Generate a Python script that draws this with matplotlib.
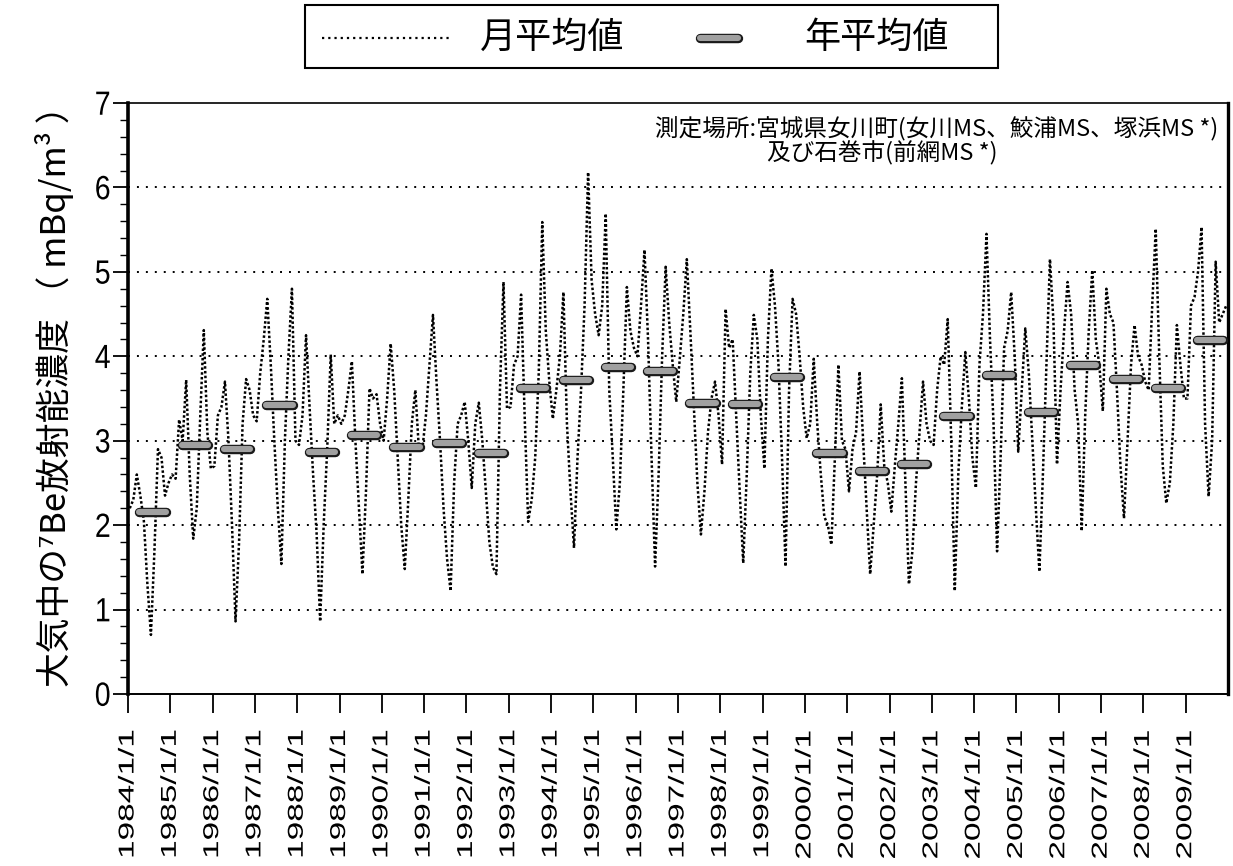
import numpy as np
import matplotlib
matplotlib.use("Agg")
import matplotlib.pyplot as plt
from matplotlib.patheffects import AbstractPathEffect, Stroke, Normal
from matplotlib.transforms import Affine2D
from matplotlib.lines import Line2D
from matplotlib.patches import Rectangle
from matplotlib.ticker import MultipleLocator

# ---------------- data ----------------
years = list(range(1984, 2010))

monthly_by_year = [
    [2.20, 2.30, 2.60, 2.35, 2.05, 1.30, 0.70, 1.70, 2.90, 2.80, 2.35, 2.50],  # 1984
    [2.60, 2.55, 3.25, 3.00, 3.72, 2.60, 1.84, 2.20, 3.30, 4.31, 3.10, 2.67],  # 1985
    [2.70, 3.30, 3.40, 3.70, 3.00, 2.00, 0.86, 1.80, 3.20, 3.73, 3.60, 3.30],  # 1986
    [3.23, 3.80, 4.20, 4.68, 3.90, 3.00, 2.20, 1.54, 3.00, 4.00, 4.80, 3.00],  # 1987
    [2.95, 3.30, 4.25, 3.40, 2.60, 1.90, 0.86, 2.00, 2.90, 4.02, 3.20, 3.30],  # 1988
    [3.20, 3.30, 3.60, 3.94, 3.00, 2.20, 1.42, 2.40, 3.62, 3.50, 3.55, 3.20],  # 1989
    [3.00, 3.50, 4.15, 3.60, 2.80, 2.00, 1.48, 2.30, 3.20, 3.60, 2.90, 2.90],  # 1990
    [3.30, 3.90, 4.49, 3.70, 3.00, 2.20, 1.60, 1.22, 2.50, 3.20, 3.30, 3.46],  # 1991
    [3.00, 2.44, 3.20, 3.45, 3.00, 2.40, 1.80, 1.50, 1.42, 3.60, 4.88, 3.38],  # 1992
    [3.40, 3.90, 4.00, 4.73, 3.30, 2.04, 2.30, 2.80, 3.80, 5.59, 4.30, 3.70],  # 1993
    [3.26, 3.60, 4.00, 4.76, 3.20, 2.40, 1.73, 2.80, 3.60, 4.60, 6.18, 4.90],  # 1994
    [4.50, 4.25, 4.60, 5.69, 3.60, 2.80, 1.95, 2.50, 3.60, 4.82, 4.30, 4.10],  # 1995
    [4.00, 4.60, 5.26, 4.20, 2.80, 1.51, 2.60, 4.00, 5.06, 4.40, 3.90, 3.46],  # 1996
    [3.97, 4.50, 5.15, 4.30, 3.40, 2.50, 1.89, 2.40, 3.10, 3.50, 3.70, 3.30],  # 1997
    [2.72, 4.56, 4.10, 4.20, 3.30, 2.40, 1.55, 2.60, 3.80, 4.49, 4.20, 3.30],  # 1998
    [2.67, 4.20, 5.04, 4.60, 3.90, 2.80, 1.51, 3.60, 4.68, 4.50, 4.00, 3.40],  # 1999
    [3.03, 3.20, 3.97, 3.20, 2.60, 2.10, 2.00, 1.77, 2.80, 3.90, 3.00, 2.90],  # 2000
    [2.40, 2.90, 3.10, 3.82, 3.00, 2.20, 1.42, 2.00, 2.60, 3.43, 2.70, 2.50],  # 2001
    [2.16, 2.70, 3.20, 3.74, 2.50, 1.30, 1.70, 2.50, 3.10, 3.70, 3.20, 3.00],  # 2002
    [2.95, 3.60, 4.00, 3.90, 4.44, 3.00, 1.22, 2.60, 3.40, 4.05, 3.50, 2.80],  # 2003
    [2.44, 3.90, 4.50, 5.45, 4.20, 3.20, 1.69, 2.80, 4.10, 4.30, 4.76, 4.00],  # 2004
    [2.87, 3.60, 4.33, 3.80, 3.00, 2.20, 1.45, 2.60, 3.90, 5.15, 4.40, 2.72],  # 2005
    [3.60, 4.30, 4.88, 4.50, 3.60, 3.20, 1.93, 3.30, 4.30, 5.02, 4.20, 3.90],  # 2006
    [3.35, 4.80, 4.50, 4.40, 3.60, 2.70, 2.08, 3.00, 3.90, 4.37, 4.00, 3.90],  # 2007
    [3.70, 3.60, 4.60, 5.51, 4.00, 2.70, 2.26, 2.50, 3.20, 4.37, 3.90, 3.50],  # 2008
    [3.50, 4.60, 4.70, 5.00, 5.53, 3.20, 2.34, 3.00, 5.12, 4.40, 4.50, 4.60],  # 2009
]

annual = [2.15, 2.95, 2.90, 3.42, 2.87, 3.07, 2.92, 2.97, 2.85, 3.63,
          3.72, 3.87, 3.82, 3.45, 3.44, 3.76, 2.86, 2.64, 2.72, 3.29,
          3.78, 3.34, 3.90, 3.73, 3.63, 4.19]

xtick_labels = [f"{y}/1/1" for y in years]
ytick_labels = ["0", "1", "2", "3", "4", "5", "6", "7"]

legend_labels = ["月平均値", "年平均値"]
ylabel_text = "大気中の⁷Be放射能濃度 （ mBq/m³ ）"
note_line1 = "測定場所:宮城県女川町(女川MS、鮫浦MS、塚浜MS *)"
note_line2 = "及び石巻市(前網MS *)"

CJK = ["Noto Sans CJK JP", "DejaVu Sans"]


# ---------------- helpers ----------------
class Stretch(AbstractPathEffect):
    """Draw text stretched along its own baseline (sx) / across it (sy)."""

    def __init__(self, sx=1.0, sy=1.0, xanchor="center", yanchor="center"):
        super().__init__()
        self.sx, self.sy = sx, sy
        self.xanchor, self.yanchor = xanchor, yanchor

    def draw_path(self, renderer, gc, tpath, affine, rgbFace=None):
        ext = tpath.get_extents()
        ax_ = {"left": ext.x0, "right": ext.x1,
               "center": 0.5 * (ext.x0 + ext.x1)}[self.xanchor]
        ay_ = {"bottom": ext.y0, "top": ext.y1,
               "center": 0.5 * (ext.y0 + ext.y1)}[self.yanchor]
        local = (Affine2D().translate(-ax_, -ay_)
                 .scale(self.sx, self.sy).translate(ax_, ay_))
        renderer.draw_path(gc, tpath, local + affine, rgbFace)


W, H = 1233, 866
fig = plt.figure(figsize=(W / 100, H / 100), dpi=100)
fig.patch.set_facecolor("white")

AX_L, AX_R, AX_T, AX_B = 128, 1228, 103, 694
ax = fig.add_axes([AX_L / W, 1 - AX_B / H, (AX_R - AX_L) / W, (AX_B - AX_T) / H])

# monthly series
monthly = np.array(monthly_by_year).ravel()
n_years = len(years)
month_pos = np.repeat(np.array(years, dtype=float), 12) + \
    (np.tile(np.arange(12), n_years) + 0.5) / 12.0

ax.plot(month_pos, monthly, color="black", lw=1.8,
        linestyle=(0, (1, 0.9)), zorder=3)

# annual bars
bar_x = []
bar_y = []
for y, v in zip(years, annual):
    bar_x += [y + 0.27, y + 0.89, np.nan]
    bar_y += [v, v, np.nan]
bar_pe = [Stroke(linewidth=6.8, foreground="#1a1a1a", capstyle="round"), Normal()]
ax.plot(bar_x, bar_y, color="#a0a0a0", lw=4.4, solid_capstyle="round",
        zorder=4, path_effects=bar_pe)

# axes formatting
ax.set_xlim(1984, 2010)
ax.set_ylim(0, 7)

for yv in range(1, 7):
    ax.axhline(yv, color="black", lw=1.4, linestyle=(0, (1, 3.6)), zorder=1)

ax.set_xticks(years)
ax.set_xticklabels(xtick_labels, rotation=90, ha="center", va="top",
                   fontsize=15.5, family="Liberation Sans")
ax.set_yticks(range(0, 8))
ax.set_yticklabels(ytick_labels, fontsize=20.5, family="Liberation Sans")
ax.yaxis.set_minor_locator(MultipleLocator(0.2))

ax.tick_params(axis="x", which="major", direction="out", length=14,
               width=1.3, pad=12, color="black")
ax.tick_params(axis="y", which="major", direction="out", length=11,
               width=1.3, pad=1.5)
ax.tick_params(axis="y", which="minor", direction="out", length=6, width=1.0)

for lbl in ax.get_xticklabels():
    lbl.set_path_effects([Stretch(sx=1.55, sy=1.0, xanchor="right")])
for lbl in ax.get_yticklabels():
    lbl.set_path_effects([Stretch(sx=1.0, sy=1.18, yanchor="center")])

ax.spines["left"].set_linewidth(2.6)
ax.spines["right"].set_linewidth(2.4)
ax.spines["bottom"].set_linewidth(1.4)
ax.spines["top"].set_linewidth(1.2)
for s in ax.spines.values():
    s.set_color("black")

# y label
fig.text(55 / W, 1 - 388 / H, ylabel_text, rotation=90, ha="center",
         va="center", fontsize=25, family=CJK)

# note in plot
fig.text(655 / W, 1 - 129 / H, note_line1, ha="left", va="center",
         fontsize=17, family=CJK)
fig.text(767 / W, 1 - 153 / H, note_line2, ha="left", va="center",
         fontsize=17, family=CJK)

# legend box (manual)
LB_L, LB_R, LB_T, LB_B = 305, 998, 5, 68
fig.patches.append(Rectangle((LB_L / W, 1 - LB_B / H), (LB_R - LB_L) / W,
                             (LB_B - LB_T) / H, transform=fig.transFigure,
                             fill=False, edgecolor="black", lw=1.5))
ly = 1 - 38 / H
fig.add_artist(Line2D([322 / W, 452 / W], [ly, ly], transform=fig.transFigure,
                      color="black", lw=1.6, linestyle=(0, (1, 1.8))))
fig.add_artist(Line2D([700 / W, 738 / W], [ly, ly], transform=fig.transFigure,
                      color="#a0a0a0", lw=4.4, solid_capstyle="round",
                      path_effects=bar_pe))
fig.text(552 / W, ly, legend_labels[0], ha="center", va="center",
         fontsize=26, family=CJK)
fig.text(877 / W, ly, legend_labels[1], ha="center", va="center",
         fontsize=26, family=CJK)

fig.savefig("out.png", dpi=100, facecolor="white")
